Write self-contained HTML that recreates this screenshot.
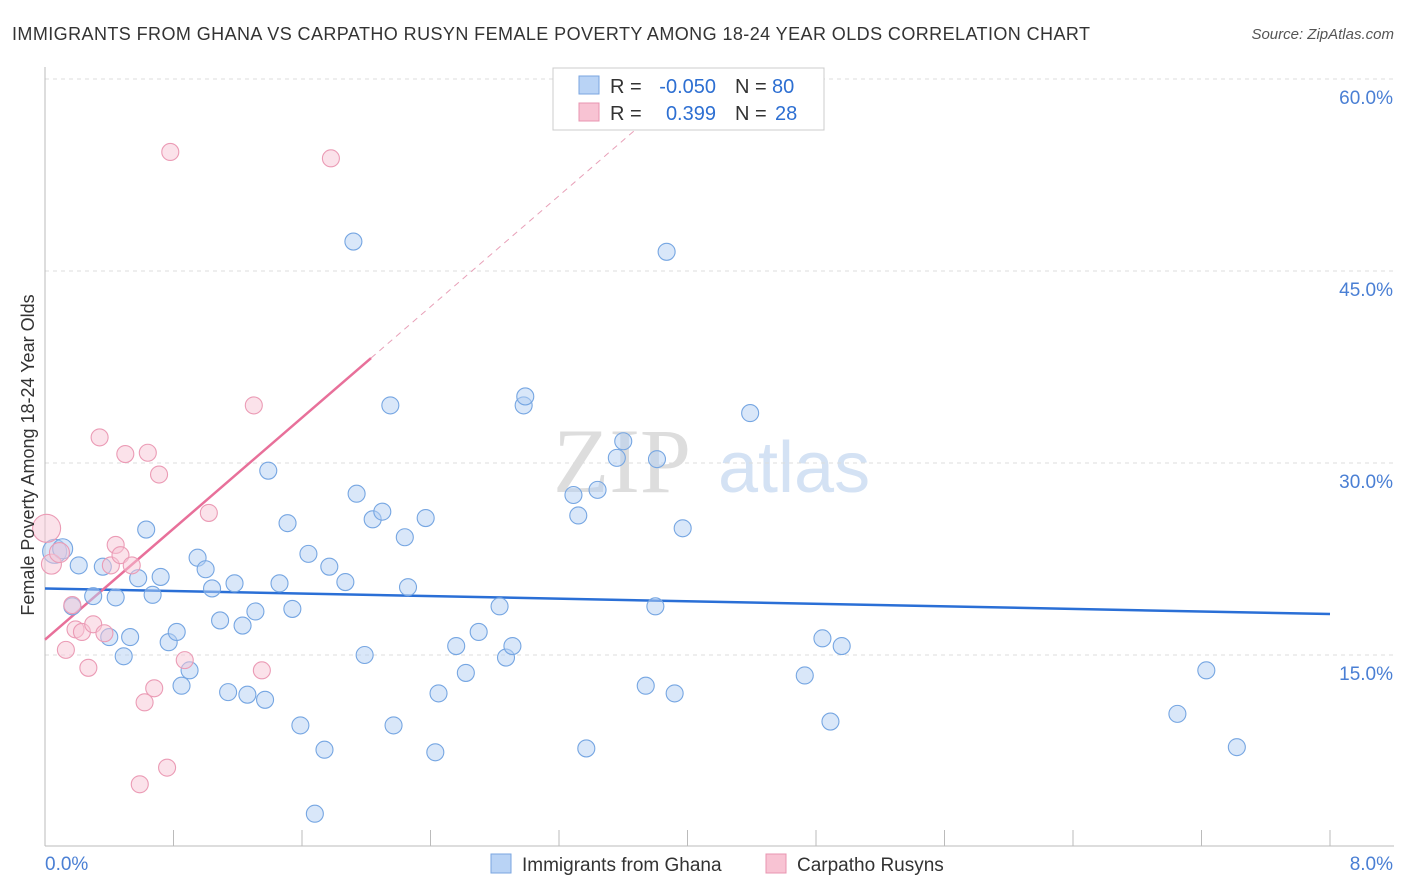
<!DOCTYPE html>
<html><head><meta charset="utf-8"><style>
body{margin:0;background:#fff;font-family:"Liberation Sans",sans-serif}
svg{display:block}
</style></head><body>
<svg id="c" width="1406" height="892" xmlns="http://www.w3.org/2000/svg">
<text x="12" y="40" font-size="18" fill="#333" textLength="1078">IMMIGRANTS FROM GHANA VS CARPATHO RUSYN FEMALE POVERTY AMONG 18-24 YEAR OLDS CORRELATION CHART</text>
<text x="1394" y="39" font-size="15" fill="#555" text-anchor="end" font-style="italic">Source: ZipAtlas.com</text>
<g><text x="553" y="492" font-size="92" fill="#ddd" font-family="Liberation Serif">ZIP</text><text x="718" y="492" font-size="72" fill="#d4e2f4">atlas</text></g>
<g id="grid"></g><g id="axes"></g><g id="lines"></g><g id="pts"></g>
<text transform="translate(34,455) rotate(-90)" font-size="18" fill="#333" text-anchor="middle">Female Poverty Among 18-24 Year Olds</text>
<g font-size="20">
<rect x="553" y="68" width="271" height="62" fill="#fff" stroke="#ccc"/>
<rect x="579" y="76" width="20" height="18" fill="#b9d3f5" stroke="#7aa6e0"/>
<rect x="579" y="103" width="20" height="18" fill="#f8c3d3" stroke="#e895b0"/>
<text x="610" y="93" fill="#333">R =</text><text x="716" y="93" fill="#2d6fd2" text-anchor="end">-0.050</text>
<text x="735" y="93" fill="#333">N =</text><text x="772" y="93" fill="#2d6fd2">80</text>
<text x="610" y="120" fill="#333">R =</text><text x="716" y="120" fill="#2d6fd2" text-anchor="end">0.399</text>
<text x="735" y="120" fill="#333">N =</text><text x="775" y="120" fill="#2d6fd2">28</text>
</g>
<g>
<rect x="491" y="854" width="20" height="19" fill="#b9d3f5" stroke="#7aa6e0"/>
<text x="522" y="871" font-size="19" fill="#333">Immigrants from Ghana</text>
<rect x="766" y="854" width="20" height="19" fill="#f8c3d3" stroke="#e895b0"/>
<text x="797" y="871" font-size="19" fill="#333">Carpatho Rusyns</text>
</g>
</svg>
<script>
const yTicks=[15,30,45,60];
const xLabels=["0.0%","8.0%"];
const ghanaX=[0.06,0.11,0.21,0.36,0.17,0.30,0.44,0.58,0.72,0.63,0.67,0.40,0.53,0.49,0.77,0.82,0.85,0.90,0.95,1.00,1.04,1.09,1.18,1.23,1.31,1.14,1.26,1.37,1.39,1.46,1.51,1.54,1.59,1.64,1.68,1.74,1.77,1.87,1.92,1.94,1.99,2.04,2.10,2.15,2.17,2.24,2.26,2.37,2.43,2.45,2.56,2.62,2.70,2.83,2.87,2.91,2.98,2.99,3.29,3.32,3.37,3.44,3.56,3.60,3.74,3.80,3.81,3.87,3.92,3.97,4.39,4.73,4.84,4.89,4.96,7.05,7.23,7.42];
const ghanaY=[23.1,23.3,22.0,21.9,18.8,19.6,19.5,21.0,21.1,24.8,19.7,16.4,16.4,14.9,16.0,16.8,12.6,13.8,22.6,21.7,20.2,17.7,20.6,17.3,18.4,12.1,11.9,11.5,29.4,20.6,25.3,18.6,9.5,22.9,2.6,7.6,21.9,20.7,47.3,27.6,15.0,25.6,26.2,34.5,9.5,24.2,20.3,25.7,7.4,12.0,15.7,13.6,16.8,18.8,14.8,15.7,34.5,35.2,27.5,25.9,7.7,27.9,30.4,31.7,12.6,18.8,30.3,46.5,12.0,24.9,33.9,13.4,16.3,9.8,15.7,10.4,13.8,7.8];
const ghanaR=[12,10,8.5,8.5,8.5,8.5,8.5,8.5,8.5,8.5,8.5,8.5,8.5,8.5,8.5,8.5,8.5,8.5,8.5,8.5,8.5,8.5,8.5,8.5,8.5,8.5,8.5,8.5,8.5,8.5,8.5,8.5,8.5,8.5,8.5,8.5,8.5,8.5,8.5,8.5,8.5,8.5,8.5,8.5,8.5,8.5,8.5,8.5,8.5,8.5,8.5,8.5,8.5,8.5,8.5,8.5,8.5,8.5,8.5,8.5,8.5,8.5,8.5,8.5,8.5,8.5,8.5,8.5,8.5,8.5,8.5,8.5,8.5,8.5,8.5,8.5,8.5,8.5];
const rusynX=[0.01,0.04,0.09,0.13,0.17,0.19,0.23,0.27,0.30,0.34,0.37,0.41,0.44,0.47,0.50,0.54,0.59,0.62,0.64,0.68,0.71,0.76,0.78,0.87,1.02,1.30,1.35,1.78];
const rusynY=[24.9,22.1,23.0,15.4,18.9,17.0,16.8,14.0,17.4,32.0,16.7,22.0,23.6,22.8,30.7,22.0,4.9,11.3,30.8,12.4,29.1,6.2,54.3,14.6,26.1,34.5,13.8,53.8];
const rusynR=[14,10,10,8.5,8.5,8.5,8.5,8.5,8.5,8.5,8.5,8.5,8.5,8.5,8.5,8.5,8.5,8.5,8.5,8.5,8.5,8.5,8.5,8.5,8.5,8.5,8.5,8.5];
const ghanaFit=[20.2,18.2];
const rusynFit=[16.2,38.2,2.03];
const X=v=>45+v/8*1285, Y=v=>847-v*12.8;
const NS="http://www.w3.org/2000/svg";
function mk(p,t,a){const e=document.createElementNS(NS,t);for(const k in a)e.setAttribute(k,a[k]);document.getElementById(p).appendChild(e);return e;}
yTicks.forEach(t=>{
 const g=mk('grid','line',{x1:45,x2:1394,y1:Y(t),y2:Y(t),stroke:'#ddd','stroke-dasharray':'4,4'});
 
 
 const l=mk('axes','text',{x:1393,y:Y(t)+25,'font-size':19,fill:'#4a7fd4','text-anchor':'end'});l.textContent=t.toFixed(1)+'%';
 
 
});
mk('axes','line',{x1:45,x2:45,y1:67,y2:846,stroke:'#bbb'});
mk('axes','line',{x1:45,x2:1394,y1:846,y2:846,stroke:'#bbb'});
for(let i=0;i<=10;i++){const t=mk('axes','line',{x1:X(i*0.8),x2:X(i*0.8),y1:830,y2:846,stroke:'#bbb'});
 
 }
const xl0=mk('axes','text',{x:45,y:870,'font-size':19,fill:'#4a7fd4'});xl0.textContent=xLabels[0];


const xl1=mk('axes','text',{x:1393,y:870,'font-size':19,fill:'#4a7fd4','text-anchor':'end'});xl1.textContent=xLabels[1];


function dots(xs,ys,rs,fill,stroke,name){xs.forEach((x,i)=>{const c=mk('pts','circle',{cx:X(x),cy:Y(ys[i]),r:rs[i],fill:fill,'fill-opacity':0.5,stroke:stroke,'stroke-width':1.1});
 
 });}
dots(ghanaX,ghanaY,ghanaR,'#b3cff3','#76a6e2','ghana-point');
dots(rusynX,rusynY,rusynR,'#f8c6d5','#eb9bb5','rusyn-point');
const bl=mk('lines','line',{x1:X(0),y1:Y(ghanaFit[0]),x2:X(8),y2:Y(ghanaFit[1]),stroke:'#2a6fd6','stroke-width':2.5});


const slope=(rusynFit[1]-rusynFit[0])/rusynFit[2];
const pl=mk('lines','line',{x1:X(0),y1:Y(rusynFit[0]),x2:X(rusynFit[2]),y2:Y(rusynFit[1]),stroke:'#e8709a','stroke-width':2.5});


const pd=mk('lines','line',{x1:X(rusynFit[2]),y1:Y(rusynFit[1]),x2:X(3.67),y2:Y(rusynFit[0]+slope*3.67),stroke:'#e8a0b8','stroke-width':1,'stroke-dasharray':'6,5'});


</script>
</body></html>
